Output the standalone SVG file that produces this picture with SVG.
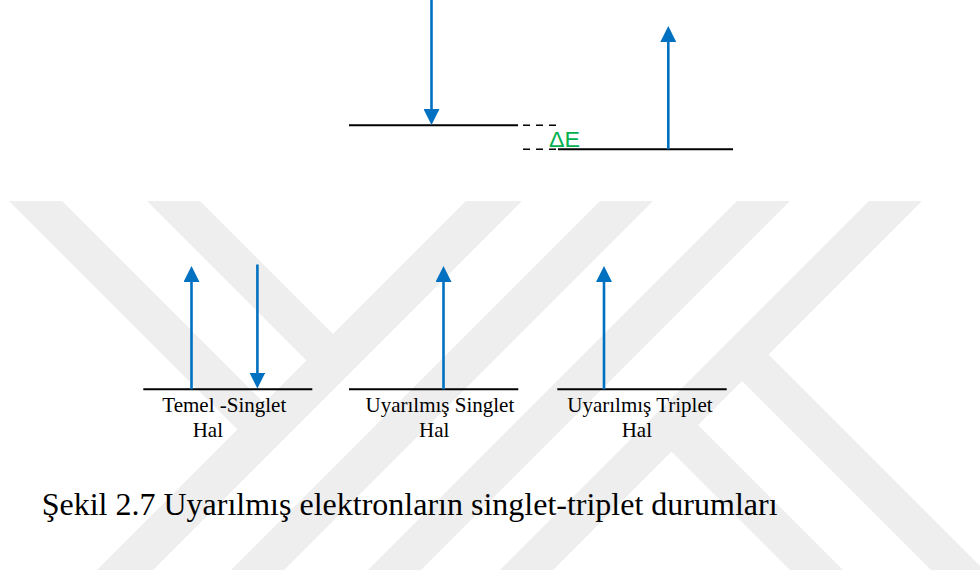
<svg xmlns="http://www.w3.org/2000/svg" width="980" height="576" viewBox="0 0 980 576">
  <defs>
    <style>
      .wm { fill: #eeeeee; stroke: none; }
      .level { stroke: #000000; stroke-width: 2; fill: none; }
      .dash { stroke: #000000; stroke-width: 1.6; fill: none; stroke-dasharray: 7 6; }
      .spin { stroke: #0070C0; stroke-width: 2.6; fill: none; marker-end: url(#head); }
      .lbl { font-family: "Liberation Serif", "Times New Roman", serif; font-size: 21px; fill: #000000; }
      .cap { font-family: "Liberation Serif", "Times New Roman", serif; font-size: 32px; fill: #000000; }
      .de { font-family: "Liberation Sans", Arial, sans-serif; font-size: 22px; fill: #00B050; }
    </style>
    <marker id="head" markerUnits="userSpaceOnUse" markerWidth="16" markerHeight="16" refX="8" refY="8" orient="auto">
      <path d="M0,0 L16,8 L0,16 Z" fill="#0070C0"/>
    </marker>
  </defs>

  <rect x="0" y="0" width="980" height="576" fill="#ffffff"/>

  <g id="watermark">
    <polygon class="wm" points="9,201 62,201 270.5,409.5 244,436"/>
    <polygon class="wm" points="147,201 200,201 339.5,340.5 313,367"/>
    <polygon class="wm" points="466,201 522,201 153,570 97,570"/>
    <polygon class="wm" points="600,201 653,201 284,570 231,570"/>
    <polygon class="wm" points="737,201 790,201 421,570 368,570"/>
    <polygon class="wm" points="869,201 922,201 553,570 500,570"/>
    <polygon class="wm" points="762,348 984,570 931,570 735.5,374.5"/>
    <polygon class="wm" points="691.5,418.5 843,570 790,570 665,445"/>
  </g>

  <g id="split-levels">
    <line class="level" x1="349" y1="125.3" x2="518" y2="125.3"/>
    <line class="dash" x1="523" y1="125.3" x2="556" y2="125.3"/>
    <line class="dash" x1="523" y1="149.3" x2="556" y2="149.3"/>
    <line class="level" x1="558" y1="149.3" x2="733" y2="149.3"/>
    <text class="de" x="549" y="146.5" textLength="31" lengthAdjust="spacingAndGlyphs">ΔE</text>
  </g>

  <g id="temel-singlet">
    <line class="level" x1="143.3" y1="389.3" x2="312.3" y2="389.3"/>
    <text class="lbl" x="162.3" y="411.7">Temel -Singlet</text>
    <text class="lbl" x="192.7" y="436.7">Hal</text>
  </g>

  <g id="uyarilmis-singlet">
    <line class="level" x1="349" y1="389.3" x2="518.3" y2="389.3"/>
    <text class="lbl" x="365.5" y="411.7">Uyarılmış Singlet</text>
    <text class="lbl" x="419" y="436.7">Hal</text>
  </g>

  <g id="uyarilmis-triplet">
    <line class="level" x1="557.3" y1="389.3" x2="726.7" y2="389.3"/>
    <text class="lbl" x="567.3" y="411.7">Uyarılmış Triplet</text>
    <text class="lbl" x="621.7" y="436.7">Hal</text>
  </g>

  <g id="connectors">
    <line class="spin" x1="431.5" y1="0" x2="431.5" y2="117"/>
    <line class="spin" x1="668.3" y1="149.3" x2="668.3" y2="34"/>
    <line class="spin" x1="191.5" y1="389.3" x2="191.5" y2="274"/>
    <line class="spin" x1="257.4" y1="264.5" x2="257.4" y2="380.5"/>
    <line class="spin" x1="443.5" y1="389.3" x2="443.5" y2="274"/>
    <line class="spin" x1="604" y1="389.3" x2="604" y2="274"/>
  </g>

  <g id="caption">
    <text class="cap" x="41.7" y="515.3">Şekil 2.7 Uyarılmış elektronların singlet-triplet durumları</text>
  </g>
</svg>
